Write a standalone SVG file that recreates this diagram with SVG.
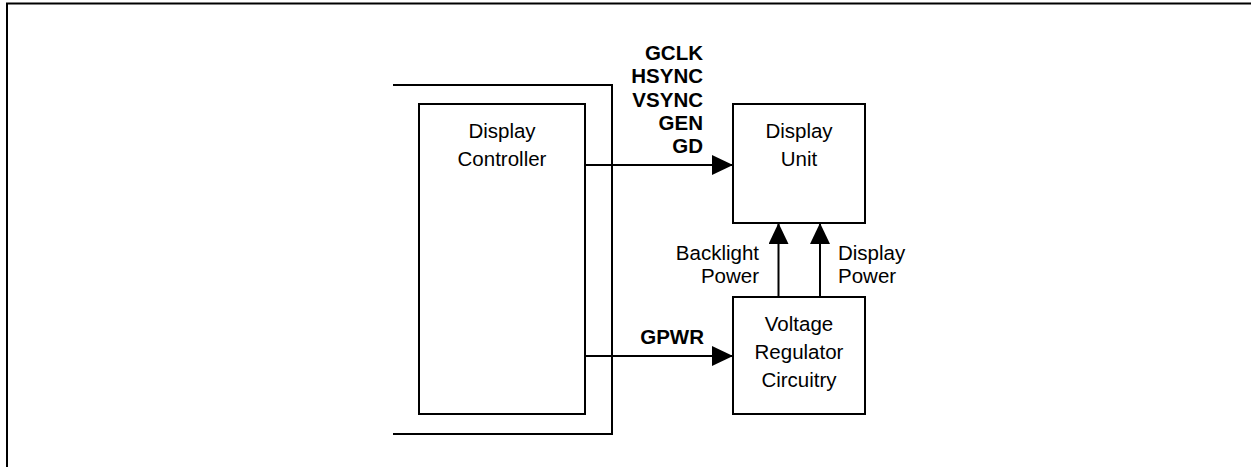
<svg xmlns="http://www.w3.org/2000/svg" width="1251" height="467" viewBox="0 0 1251 467">
<style>
.box{fill:none;stroke:#000;stroke-width:2}
.ln{fill:none;stroke:#000;stroke-width:2}
.t{font-family:"Liberation Sans",Arial,sans-serif;font-size:20.5px;fill:#000}
.b{font-family:"Liberation Sans",Arial,sans-serif;font-size:20.5px;font-weight:bold;fill:#000}
</style>
<defs>
<marker id="ah" markerUnits="userSpaceOnUse" markerWidth="22" markerHeight="22" refX="21" refY="10" orient="auto">
<path d="M0,0 L21,10 L0,20 Z" fill="#000"/>
</marker>
</defs>
<rect width="1251" height="467" fill="#fff"/>
<path class="ln" d="M7,467 V3.5 H1251"/>
<g id="bracket">
<path class="ln" d="M393,85 H612 V434 H393"/>
</g>
<g id="display-controller">
<rect class="box" x="419" y="104" width="166" height="310"/>
<text class="t" text-anchor="middle" x="502" y="138">Display</text>
<text class="t" text-anchor="middle" x="502" y="166">Controller</text>
</g>
<g id="display-unit">
<rect class="box" x="733" y="104" width="132" height="119"/>
<text class="t" text-anchor="middle" x="799" y="138">Display</text>
<text class="t" text-anchor="middle" x="799" y="166">Unit</text>
</g>
<g id="voltage-regulator">
<rect class="box" x="733" y="297" width="132" height="117"/>
<text class="t" text-anchor="middle" x="799" y="331">Voltage</text>
<text class="t" text-anchor="middle" x="799" y="359">Regulator</text>
<text class="t" text-anchor="middle" x="799" y="387">Circuitry</text>
</g>
<g id="connectors">
<line class="ln" x1="585" y1="165" x2="733" y2="165" marker-end="url(#ah)"/>
<line class="ln" x1="585" y1="356" x2="733" y2="356" marker-end="url(#ah)"/>
<line class="ln" x1="778.5" y1="297" x2="778.5" y2="223" marker-end="url(#ah)"/>
<line class="ln" x1="820" y1="297" x2="820" y2="223" marker-end="url(#ah)"/>
<text class="b" text-anchor="end" x="703" y="60">GCLK</text>
<text class="b" text-anchor="end" x="703" y="83">HSYNC</text>
<text class="b" text-anchor="end" x="703" y="106.5">VSYNC</text>
<text class="b" text-anchor="end" x="703" y="130">GEN</text>
<text class="b" text-anchor="end" x="703" y="153">GD</text>
<text class="b" text-anchor="end" x="704" y="344">GPWR</text>
<text class="t" text-anchor="end" x="759" y="260">Backlight</text>
<text class="t" text-anchor="end" x="759" y="283">Power</text>
<text class="t" x="838" y="260">Display</text>
<text class="t" x="838" y="283">Power</text>
</g>
</svg>
